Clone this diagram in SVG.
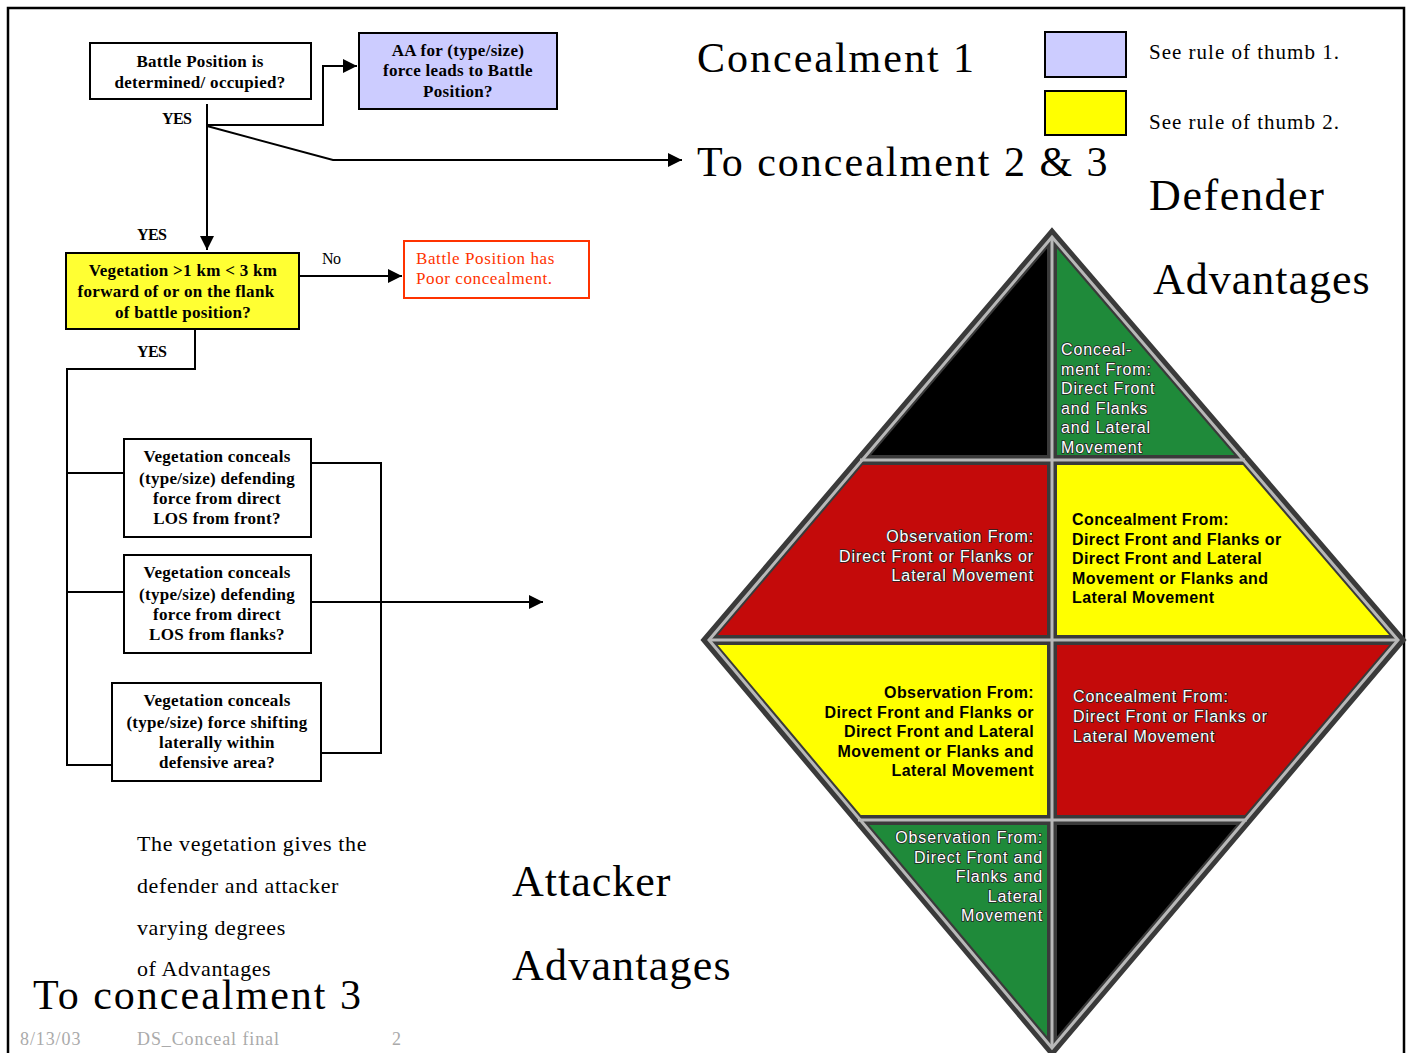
<svg xmlns="http://www.w3.org/2000/svg" width="1408" height="1053" viewBox="0 0 1408 1053">
<style>
.fc{font-family:"Liberation Serif","Times New Roman",serif;font-weight:bold;font-size:17px;letter-spacing:0.3px;text-anchor:middle;fill:#000}
.lbl{font-family:"Liberation Serif","Times New Roman",serif;font-weight:bold;font-size:16px;letter-spacing:-0.6px;fill:#000}
.big{font-family:"Liberation Serif","Times New Roman",serif;font-size:42px;fill:#000;letter-spacing:1px}
.mid{font-family:"Liberation Serif","Times New Roman",serif;font-size:22px;fill:#000;letter-spacing:0.6px}
.foot{font-family:"Liberation Serif","Times New Roman",serif;font-size:18px;fill:#aaa;letter-spacing:0.9px}
.box{stroke:#000;stroke-width:2}
.ln{fill:none;stroke:#000;stroke-width:2}
.dw{font-family:"Liberation Sans",Arial,sans-serif;font-size:16px;fill:#fff;letter-spacing:0.9px;paint-order:stroke;stroke:#222;stroke-width:1.6px}
.db{font-family:"Liberation Sans",Arial,sans-serif;font-size:16px;font-weight:bold;fill:#000;letter-spacing:0.4px}
.frame1{fill:none;stroke:#3a3a3a;stroke-width:10;stroke-linejoin:miter}
.frame2{fill:none;stroke:#b8b8b8;stroke-width:3;stroke-linejoin:miter}
</style>
<defs>
<marker id="ah" viewBox="0 0 10 10" refX="10" refY="5" markerWidth="14" markerHeight="14" markerUnits="userSpaceOnUse" orient="auto">
<path d="M0,0 L10,5 L0,10 z" fill="#000"/>
</marker>
</defs>
<rect x="0" y="0" width="1408" height="1053" fill="#fff"/>
<path d="M8,1060 V8 H1404 V1060" fill="none" stroke="#000" stroke-width="2.5"/>

<g id="connectors">
<path class="ln" d="M207,104 V250" marker-end="url(#ah)"/>
<path class="ln" d="M207,125 H323 V66 H357" marker-end="url(#ah)"/>
<path class="ln" d="M207,126 L333,160 H682" marker-end="url(#ah)"/>
<path class="ln" d="M299,276 H402" marker-end="url(#ah)"/>
<path class="ln" d="M195,320 V369 H67 V765 H112"/>
<path class="ln" d="M67,473 H124"/>
<path class="ln" d="M67,592 H124"/>
<path class="ln" d="M311,463 H381 V753 H321"/>
<path class="ln" d="M311,602 H543" marker-end="url(#ah)"/>
<text class="lbl" x="162" y="124">YES</text>
<text class="lbl" x="137" y="240">YES</text>
<text class="lbl" x="322" y="264" style="font-weight:normal">No</text>
<text class="lbl" x="137" y="357">YES</text>
</g>

<g id="n1">
<rect class="box" x="90" y="43" width="221" height="56" fill="#fff"/>
<text class="fc" x="200" y="67">Battle Position  is</text>
<text class="fc" x="200" y="88">determined/ occupied?</text>
</g>
<g id="n2">
<rect class="box" x="359" y="33" width="198" height="76" fill="#ccccff"/>
<text class="fc" x="458" y="56">AA for (type/size)</text>
<text class="fc" x="458" y="76">force leads to Battle</text>
<text class="fc" x="458" y="97">Position?</text>
</g>
<g id="n3">
<rect class="box" x="66" y="253" width="233" height="76" fill="#ffff33"/>
<text class="fc" x="183" y="276">Vegetation &gt;1 km &lt; 3 km</text>
<text class="fc" x="176" y="297">forward of or on the flank</text>
<text class="fc" x="183" y="318">of battle position?</text>
</g>
<g id="n4">
<rect x="404" y="241" width="185" height="57" fill="#fff" stroke="#ff3300" stroke-width="2"/>
<text x="416" y="264" style="font-family:'Liberation Serif','Times New Roman',serif;fill:#ff3300;font-size:17px;letter-spacing:0.6px">Battle Position has</text>
<text x="416" y="284" style="font-family:'Liberation Serif','Times New Roman',serif;fill:#ff3300;font-size:17px;letter-spacing:0.6px">Poor concealment.</text>
</g>
<g id="n5">
<rect class="box" x="124" y="439" width="187" height="98" fill="#fff"/>
<text class="fc" x="217" y="462">Vegetation conceals</text>
<text class="fc" x="217" y="484">(type/size) defending</text>
<text class="fc" x="217" y="504">force from direct</text>
<text class="fc" x="217" y="524">LOS from front?</text>
</g>
<g id="n6">
<rect class="box" x="124" y="555" width="187" height="98" fill="#fff"/>
<text class="fc" x="217" y="578">Vegetation conceals</text>
<text class="fc" x="217" y="600">(type/size) defending</text>
<text class="fc" x="217" y="620">force from direct</text>
<text class="fc" x="217" y="640">LOS from flanks?</text>
</g>
<g id="n7">
<rect class="box" x="112" y="683" width="209" height="98" fill="#fff"/>
<text class="fc" x="217" y="706">Vegetation conceals</text>
<text class="fc" x="217" y="728">(type/size) force shifting</text>
<text class="fc" x="217" y="748">laterally within</text>
<text class="fc" x="217" y="768">defensive area?</text>
</g>

<g id="titles">
<text class="big" x="697" y="72" style="letter-spacing:2px">Concealment 1</text>
<text class="big" x="697" y="176" style="letter-spacing:2px">To concealment 2 &amp; 3</text>
<text class="big" x="1149" y="210" style="font-size:44px;letter-spacing:1.6px">Defender</text>
<text class="big" x="1153" y="294" style="font-size:44px">Advantages</text>
<text class="big" x="512" y="896" style="font-size:44px">Attacker</text>
<text class="big" x="512" y="980" style="font-size:44px;letter-spacing:1.2px">Advantages</text>
<text class="mid" x="137" y="851">The vegetation gives the</text>
<text class="mid" x="137" y="893">defender and attacker</text>
<text class="mid" x="137" y="935">varying degrees</text>
<text class="mid" x="137" y="976">of Advantages</text>
<text class="big" x="33" y="1009" style="letter-spacing:2px">To concealment 3</text>
<text class="foot" x="20" y="1045">8/13/03</text>
<text class="foot" x="137" y="1045">DS_Conceal final</text>
<text class="foot" x="392" y="1045">2</text>
</g>

<g id="legend">
<rect class="box" x="1045" y="32" width="81" height="45" fill="#ccccff"/>
<rect class="box" x="1045" y="91" width="81" height="44" fill="#ffff00"/>
<text class="mid" x="1149" y="59" style="font-size:21px;letter-spacing:1px">See rule of thumb 1.</text>
<text class="mid" x="1149" y="129" style="font-size:21px;letter-spacing:1px">See rule of thumb 2.</text>
</g>

<g id="diamond">
<polygon points="1052,235 860,460 1052,460" fill="#000"/>
<polygon points="1052,235 1052,460 1245,460" fill="#1f8a3a"/>
<polygon points="860,460 1052,460 1052,640 707,640" fill="#c40a0a"/>
<polygon points="1052,460 1245,460 1400,640 1052,640" fill="#ffff00"/>
<polygon points="707,640 1052,640 1052,820 858,820" fill="#ffff00"/>
<polygon points="1052,640 1400,640 1247,820 1052,820" fill="#c40a0a"/>
<polygon points="858,820 1052,820 1052,1050" fill="#1f8a3a"/>
<polygon points="1052,820 1247,820 1052,1050" fill="#000"/>
<g class="frame1">
<polygon points="1052,235 1400,640 1052,1050 707,640"/>
<path d="M1052,235 V1050 M860,460 H1245 M707,640 H1400 M858,820 H1247"/>
</g>
<g class="frame2">
<polygon points="1052,237 1398,640 1052,1048 709,640"/>
<path d="M1052,237 V1048 M860,460 H1245 M709,640 H1398 M858,820 H1247"/>
</g>
<text class="dw" x="1061" y="355">Conceal-</text>
<text class="dw" x="1061" y="375">ment From:</text>
<text class="dw" x="1061" y="394">Direct Front</text>
<text class="dw" x="1061" y="414">and Flanks</text>
<text class="dw" x="1061" y="433">and Lateral</text>
<text class="dw" x="1061" y="453">Movement</text>
<g text-anchor="end">
<text class="dw" x="1034" y="542">Observation From:</text>
<text class="dw" x="1034" y="562">Direct Front or Flanks or</text>
<text class="dw" x="1034" y="581">Lateral Movement</text>
</g>
<text class="db" x="1072" y="525">Concealment From:</text>
<text class="db" x="1072" y="545">Direct Front and Flanks or</text>
<text class="db" x="1072" y="564">Direct Front and Lateral</text>
<text class="db" x="1072" y="584">Movement or Flanks and</text>
<text class="db" x="1072" y="603">Lateral Movement</text>
<g text-anchor="end">
<text class="db" x="1034" y="698">Observation From:</text>
<text class="db" x="1034" y="718">Direct Front and Flanks or</text>
<text class="db" x="1034" y="737">Direct Front and Lateral</text>
<text class="db" x="1034" y="757">Movement or Flanks and</text>
<text class="db" x="1034" y="776">Lateral Movement</text>
</g>
<text class="dw" x="1073" y="702">Concealment From:</text>
<text class="dw" x="1073" y="722">Direct Front or Flanks or</text>
<text class="dw" x="1073" y="742">Lateral Movement</text>
<g text-anchor="end">
<text class="dw" x="1043" y="843">Observation From:</text>
<text class="dw" x="1043" y="863">Direct Front and</text>
<text class="dw" x="1043" y="882">Flanks and</text>
<text class="dw" x="1043" y="902">Lateral</text>
<text class="dw" x="1043" y="921">Movement</text>
</g>
</g>
</svg>
